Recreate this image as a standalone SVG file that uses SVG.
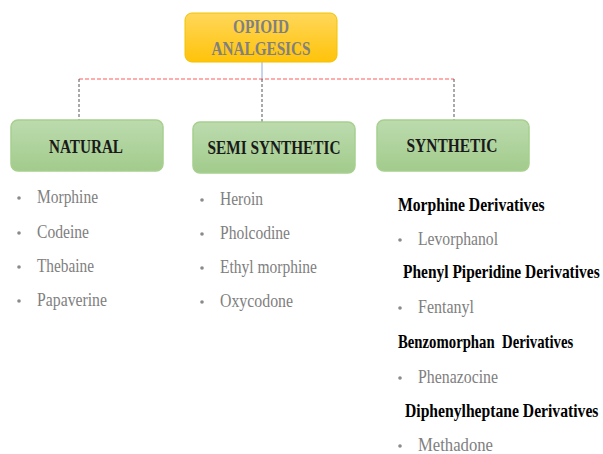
<svg xmlns="http://www.w3.org/2000/svg" width="603" height="454" viewBox="0 0 603 454">
<defs>
<linearGradient id="gy" x1="0" y1="0" x2="0" y2="1"><stop offset="0" stop-color="#FFD75A"/><stop offset="1" stop-color="#FFC30A"/></linearGradient>
<linearGradient id="gg" x1="0" y1="0" x2="0" y2="1"><stop offset="0" stop-color="#BCDBAE"/><stop offset="1" stop-color="#A2CB8C"/></linearGradient>
</defs>
<style>
.box{fill:url(#gg);stroke:#A7D08F;stroke-width:1.5}
text{font-family:'Liberation Serif','DejaVu Serif','Times New Roman',serif}
.h{font-weight:bold;font-size:19px;fill:#1a1a1a}
.t{font-size:18px;fill:#808080}
.d{font-weight:bold;font-size:18px;fill:#000}
.b{fill:#8a8a8a}
</style>
<g id="connectors">
<line x1="262" y1="62" x2="262" y2="79" stroke="#8FAADC" stroke-width="1"/>
<line x1="79" y1="79" x2="454" y2="79" stroke="#FF5B5B" stroke-width="1.2" stroke-dasharray="4,2"/>
<line x1="79" y1="79" x2="79" y2="120" stroke="#555" stroke-width="1" stroke-dasharray="3,2"/>
<line x1="262" y1="79" x2="262" y2="122" stroke="#555" stroke-width="1" stroke-dasharray="3,2"/>
<line x1="454" y1="79" x2="454" y2="120" stroke="#555" stroke-width="1" stroke-dasharray="3,2"/>
</g>
<g id="opioid">
<rect x="185" y="13" width="152" height="49" rx="7" fill="url(#gy)" stroke="#F2C200" stroke-width="1"/>
<text x="261" y="33" text-anchor="middle" class="h" style="fill:#808080" textLength="56" lengthAdjust="spacingAndGlyphs">OPIOID</text>
<text x="261" y="55" text-anchor="middle" class="h" style="fill:#808080" textLength="99" lengthAdjust="spacingAndGlyphs">ANALGESICS</text>
</g>
<g id="natural">
<rect class="box" x="11" y="120" width="152" height="51" rx="7"/>
<text x="86" y="153" text-anchor="middle" class="h" textLength="74" lengthAdjust="spacingAndGlyphs">NATURAL</text>
</g>
<g id="semi">
<rect class="box" x="193" y="122" width="162" height="51" rx="7"/>
<text x="274" y="154" text-anchor="middle" class="h" textLength="133" lengthAdjust="spacingAndGlyphs">SEMI SYNTHETIC</text>
</g>
<g id="synthetic">
<rect class="box" x="377" y="120" width="152" height="51" rx="7"/>
<text x="452" y="152" text-anchor="middle" class="h" textLength="91" lengthAdjust="spacingAndGlyphs">SYNTHETIC</text>
</g>
<g id="natural-list">
<circle class="b" cx="19" cy="198" r="1.8"/><text class="t" x="37" y="203" textLength="61" lengthAdjust="spacingAndGlyphs">Morphine</text>
<circle class="b" cx="19" cy="233" r="1.8"/><text class="t" x="37" y="238" textLength="52" lengthAdjust="spacingAndGlyphs">Codeine</text>
<circle class="b" cx="19" cy="267" r="1.8"/><text class="t" x="37" y="272" textLength="57" lengthAdjust="spacingAndGlyphs">Thebaine</text>
<circle class="b" cx="19" cy="301" r="1.8"/><text class="t" x="37" y="306" textLength="70" lengthAdjust="spacingAndGlyphs">Papaverine</text>
</g>
<g id="semi-list">
<circle class="b" cx="202" cy="200" r="1.8"/><text class="t" x="220" y="205" textLength="43" lengthAdjust="spacingAndGlyphs">Heroin</text>
<circle class="b" cx="202" cy="234" r="1.8"/><text class="t" x="220" y="239" textLength="70" lengthAdjust="spacingAndGlyphs">Pholcodine</text>
<circle class="b" cx="202" cy="268" r="1.8"/><text class="t" x="220" y="273" textLength="97" lengthAdjust="spacingAndGlyphs">Ethyl morphine</text>
<circle class="b" cx="202" cy="302" r="1.8"/><text class="t" x="220" y="307" textLength="73" lengthAdjust="spacingAndGlyphs">Oxycodone</text>
</g>
<g id="synthetic-list">
<text class="d" transform="translate(398,211) scale(0.87,1)">Morphine Derivatives</text>
<circle class="b" cx="400" cy="240" r="1.8"/><text class="t" x="418" y="245" textLength="80" lengthAdjust="spacingAndGlyphs">Levorphanol</text>
<text class="d" transform="translate(403,278) scale(0.86,1)">Phenyl Piperidine Derivatives</text>
<circle class="b" cx="400" cy="308" r="1.8"/><text class="t" x="418" y="313" textLength="56" lengthAdjust="spacingAndGlyphs">Fentanyl</text>
<text class="d" transform="translate(398,348) scale(0.82,1)" xml:space="preserve">Benzomorphan  Derivatives</text>
<circle class="b" cx="400" cy="378" r="1.8"/><text class="t" x="418" y="383" textLength="80" lengthAdjust="spacingAndGlyphs">Phenazocine</text>
<text class="d" transform="translate(405,417) scale(0.87,1)">Diphenylheptane Derivatives</text>
<circle class="b" cx="400" cy="446" r="1.8"/><text class="t" x="418" y="451" textLength="75" lengthAdjust="spacingAndGlyphs">Methadone</text>
</g>
</svg>
